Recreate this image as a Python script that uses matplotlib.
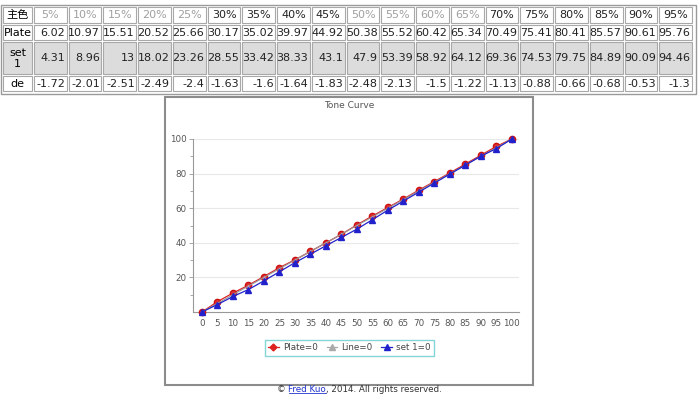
import matplotlib
matplotlib.use("Agg")
import matplotlib.pyplot as plt
from matplotlib.patches import Rectangle
from matplotlib.lines import Line2D

# table values
pct_labels = ["5%", "10%", "15%", "20%", "25%", "30%", "35%", "40%", "45%", "50%",
              "55%", "60%", "65%", "70%", "75%", "80%", "85%", "90%", "95%"]
pct_dim = [1, 1, 1, 1, 1, 0, 0, 0, 0, 1, 1, 1, 1, 0, 0, 0, 0, 0, 0]
plate = [6.02, 10.97, 15.51, 20.52, 25.66, 30.17, 35.02, 39.97, 44.92, 50.38,
         55.52, 60.42, 65.34, 70.49, 75.41, 80.41, 85.57, 90.61, 95.76]
set1 = [4.31, 8.96, 13, 18.02, 23.26, 28.55, 33.42, 38.33, 43.1, 47.9,
        53.39, 58.92, 64.12, 69.36, 74.53, 79.75, 84.89, 90.09, 94.46]
de = [-1.72, -2.01, -2.51, -2.49, -2.4, -1.63, -1.6, -1.64, -1.83, -2.48,
      -2.13, -1.5, -1.22, -1.13, -0.88, -0.66, -0.68, -0.53, -1.3]

# curve values (0 and 100 end points added)
x_vals = [0, 5, 10, 15, 20, 25, 30, 35, 40, 45, 50, 55, 60, 65, 70, 75, 80, 85, 90, 95, 100]
plate_curve = [0] + plate + [100]
line_curve = [0, 5, 10, 15, 20, 25, 30, 35, 40, 45, 50, 55, 60, 65, 70, 75, 80, 85, 90, 95, 100]
set1_curve = [0] + set1 + [100]

W, H = 698, 395
fig = plt.figure(figsize=(W / 100, H / 100), dpi=100)

# page layer in pixel coordinates
bg = fig.add_axes([0, 0, 1, 1])
bg.set_xlim(0, W)
bg.set_ylim(H, 0)
bg.axis("off")

cjk = ["DejaVu Sans", "Noto Sans CJK SC"]
tfs = 8

col_edges = [2, 33] + [33 + (i + 1) * 660 / 19 for i in range(19)]
row_edges = [6, 23.5, 41, 74.5, 92]
row_bg = ["white", "white", "#dcdcdc", "white"]

bg.add_patch(Rectangle((0.5, 4.5), 695, 89, fill=False, ec="#9a9a9a", lw=1))

row_labels = ["主色", "Plate", "set\n1", "de"]
for r in range(4):
    y0, y1 = row_edges[r] + 1, row_edges[r + 1] - 1
    ym = (y0 + y1) / 2
    for c in range(20):
        x0, x1 = col_edges[c] + 1, col_edges[c + 1] - 1
        bg.add_patch(Rectangle((x0, y0), x1 - x0, y1 - y0, fc=row_bg[r], ec="#a8a8a8", lw=0.8))
        if c == 0:
            bg.text((x0 + x1) / 2, ym + 0.5, row_labels[r], ha="center", va="center",
                    fontsize=tfs, family=cjk, linespacing=1.1)
        elif r == 0:
            bg.text((x0 + x1) / 2, ym + 0.5, pct_labels[c - 1], ha="center", va="center",
                    fontsize=tfs, color="#a0a0a0" if pct_dim[c - 1] else "#222222")
        else:
            v = [plate, set1, de][r - 1][c - 1]
            bg.text(x1 - 1.5, ym + 0.5, f"{v:g}", ha="right", va="center", fontsize=tfs,
                    color="#222222")

# chart box
bg.add_patch(Rectangle((166, 98), 368, 288, fc="#b0b0b0", ec="none"))
bg.add_patch(Rectangle((164.5, 96.5), 368, 288, fc="white", ec="#8c8c8c", lw=1.5))
bg.text(349, 106, "Tone Curve", ha="center", va="center", fontsize=6.5, color="#555555")

# plot area
ax = fig.add_axes([193 / W, (H - 312) / H, (519 - 193) / W, (312 - 139) / H])
ax.set_xlim(-2.9, 102.3)
ax.set_ylim(0, 100)
for s in ["top", "right"]:
    ax.spines[s].set_visible(False)
for s in ["left", "bottom"]:
    ax.spines[s].set_color("#999999")
    ax.spines[s].set_linewidth(0.8)
ax.set_xticks(x_vals)
ax.set_yticks([20, 40, 60, 80, 100])
ax.set_yticks([10, 30, 50, 70, 90], minor=True)
ax.tick_params(axis="x", length=0, pad=5, labelsize=6.3, labelcolor="#555555")
ax.tick_params(axis="y", which="major", length=3, width=0.6, color="#999999",
               labelsize=6.3, labelcolor="#555555", pad=1.5)
ax.tick_params(axis="y", which="minor", length=2, width=0.6, color="#999999")
ax.yaxis.grid(True, color="#e8e8e8", lw=0.8)
ax.set_axisbelow(True)

ax.plot(x_vals, plate_curve, color="#dd2222", lw=0.9, marker="o", ms=4.5, mfc="#dd3333",
        mec="#cc1111", label="Plate=0", clip_on=False, zorder=3)
ax.plot(x_vals, line_curve, color="#999999", lw=0.8, marker="^", ms=2.5, mfc="#b8a0c0",
        mec="none", label="Line=0", clip_on=False, zorder=4)
ax.plot(x_vals, set1_curve, color="#2222cc", lw=0.9, marker="^", ms=4,
        label="set 1=0", clip_on=False, zorder=5)

handles = [Line2D([], [], color="#dd2222", lw=0.9, marker="D", ms=3.5),
           Line2D([], [], color="#aaaaaa", lw=0.9, marker="^", ms=4),
           Line2D([], [], color="#2222cc", lw=0.9, marker="^", ms=4.5)]
leg = fig.legend(handles, ["Plate=0", "Line=0", "set 1=0"], loc="center",
                 bbox_to_anchor=(349.5 / W, 1 - 348 / H), ncol=3, fontsize=6.3,
                 frameon=True, fancybox=False, edgecolor="#66cccc", borderpad=0.35,
                 handlelength=1.2, handletextpad=0.5, columnspacing=1.0)
leg.get_frame().set_linewidth(1.0)
for t in leg.get_texts():
    t.set_color("#444444")

# footer
t1 = bg.text(277, 390, "© ", ha="left", va="center", fontsize=6.3, color="#333333")
t2 = bg.annotate("Fred Kuo", xy=(1, 0), xycoords=t1, ha="left", va="bottom",
                 fontsize=6.3, color="#2233cc")
t3 = bg.annotate(", 2014. All rights reserved.", xy=(1, 0), xycoords=t2, ha="left",
                 va="bottom", fontsize=6.3, color="#333333")
fig.canvas.draw()
bb = t2.get_window_extent()
fig.add_artist(Line2D([bb.x0 / W, bb.x1 / W], [(bb.y0 + 1.5) / H] * 2,
                      color="#2233cc", lw=0.6))

fig.savefig("out.png", dpi=100)
